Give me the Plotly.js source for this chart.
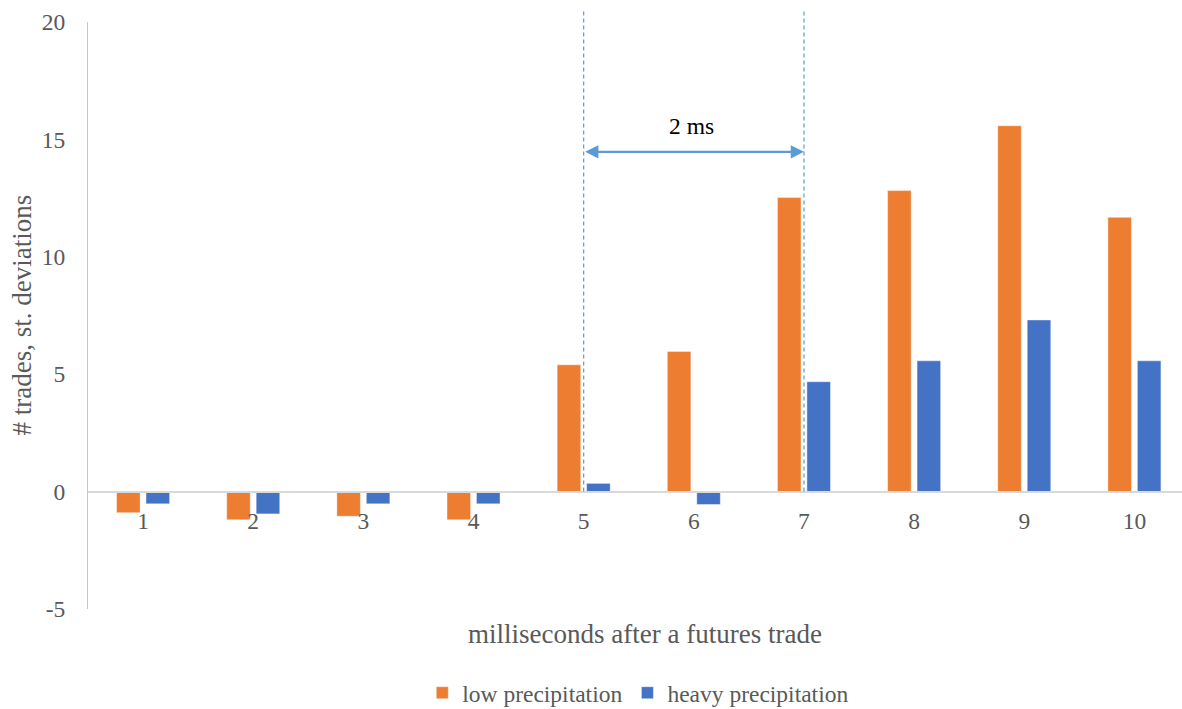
<!DOCTYPE html>
<html>
<head>
<meta charset="utf-8">
<script src="https://cdn.plot.ly/plotly-3.0.1.min.js"></script>
<style>html,body{margin:0;padding:0;background:#fff;}#chart{width:1182px;height:709px;}</style>
</head>
<body>
<div id="chart"></div>
<script>
var categories = [1, 2, 3, 4, 5, 6, 7, 8, 9, 10];
var tickLabels = ["1", "2", "3", "4", "5", "6", "7", "8", "9", "10"];
var yTickVals = [-5, 0, 5, 10, 15, 20];
var yTickLabels = ["-5", "0", "5", "10", "15", "20"];
var lowPrecip = [-0.9, -1.2, -1.05, -1.2, 5.4, 5.97, 12.53, 12.82, 15.58, 11.68];
var heavyPrecip = [-0.52, -0.95, -0.52, -0.52, 0.35, -0.55, 4.68, 5.57, 7.31, 5.57];
var seriesNames = ["low precipitation", "heavy precipitation"];
var markStart = 5, markEnd = 7, markLabel = "2 ms";

var FONT = "Liberation Serif";
var FS = 23.5;
var TS = 27;
var GREY = "#595959";

var traces = [
  {type: "bar", name: seriesNames[0], x: categories, y: lowPrecip,
   marker: {color: "#ED7D31", line: {width: 0.6, color: "rgba(255,255,255,0.7)"}}},
  {type: "bar", name: seriesNames[1], x: categories, y: heavyPrecip,
   marker: {color: "#4472C4", line: {width: 0.6, color: "rgba(255,255,255,0.7)"}}}
];

var layout = {
  width: 1182, height: 709,
  margin: {l: 88, r: 0, t: 22, b: 100, pad: 0, autoexpand: false},
  paper_bgcolor: "#fff", plot_bgcolor: "#fff",
  font: {family: FONT, size: FS, color: GREY},
  barmode: "group", bargap: 0.465, bargroupgap: 0.2,
  showlegend: true,
  legend: {orientation: "h", x: 0.503, xanchor: "center", y: -0.143, yanchor: "middle",
           font: {family: FONT, size: FS, color: GREY}, itemwidth: 30, traceorder: "normal"},
  xaxis: {
    type: "linear", range: [0.5, 10.432], tickmode: "array", tickvals: categories, ticktext: tickLabels,
    anchor: "free", position: 0.2, showline: true, linecolor: "#d9d9d9", linewidth: 2,
    showgrid: false, zeroline: false, ticks: "", ticklabelstandoff: 8,
    tickfont: {family: FONT, size: FS, color: GREY}, fixedrange: true
  },
  yaxis: {
    range: [-5, 20], tickmode: "array", tickvals: yTickVals, ticktext: yTickLabels,
    showline: true, linecolor: "#c8c8c8", linewidth: 1,
    showgrid: false, zeroline: false, ticks: "", ticklabelstandoff: 17,
    tickfont: {family: FONT, size: FS, color: GREY}
  },
  shapes: [
    {type: "line", xref: "x", yref: "paper", x0: markStart, x1: markStart, y0: 0.2, y1: 1.02,
     line: {color: "#5B9BD5", width: 1.2, dash: "4px,3px"}},
    {type: "line", xref: "x", yref: "paper", x0: markEnd, x1: markEnd, y0: 0.2, y1: 1.02,
     line: {color: "#5B9BD5", width: 1.2, dash: "4px,3px"}}
  ],
  annotations: [
    {xref: "x", yref: "y", axref: "x", ayref: "y", x: markEnd, y: 14.47, ax: markStart, ay: 14.47,
     text: "", showarrow: true, arrowside: "end+start", arrowhead: 2, arrowsize: 1.2, arrowwidth: 2.2,
     arrowcolor: "#5B9BD5", standoff: 0, startstandoff: 0},
    {xref: "x", yref: "y", x: (markStart + markEnd) / 2 - 0.02, y: 15.57, text: markLabel, showarrow: false,
     font: {family: FONT, size: FS, color: "#000"}},
    {xref: "paper", yref: "paper", x: 0.509, y: -0.0426, yanchor: "middle", text: "milliseconds after a futures trade",
     showarrow: false, font: {family: FONT, size: TS, color: GREY}},
    {xref: "paper", yref: "paper", x: -0.0612, y: 0.5, xanchor: "center", yanchor: "middle", textangle: -90,
     text: "# trades, st. deviations", showarrow: false, font: {family: FONT, size: TS, color: GREY}}
  ]
};

Plotly.newPlot("chart", traces, layout, {displayModeBar: false, staticPlot: true});
</script>
</body>
</html>
